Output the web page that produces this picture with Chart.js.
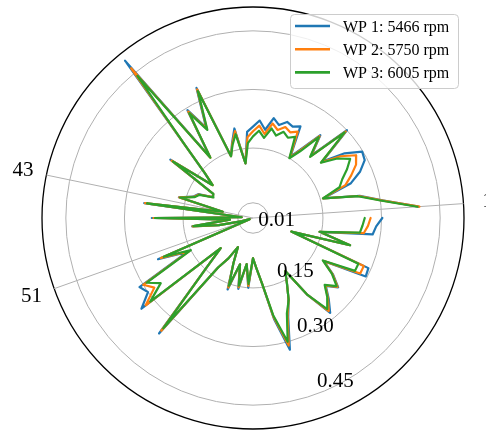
<!DOCTYPE html>
<html>
<head>
<meta charset="utf-8">
<script src="https://cdn.jsdelivr.net/npm/chart.js@4.4.1/dist/chart.umd.min.js"></script>
<style>
  html, body { margin: 0; padding: 0; background: #fff; }
</style>
</head>
<body>
<canvas id="polarChart" width="486" height="432"></canvas>
<script>
// blade numbers, counter-clockwise from 3 o'clock
const blades = [1, 2, 3, 4, 5, 6, 7, 8, 9, 10, 11, 12, 13, 14, 15, 16, 17, 18, 19, 20,
  21, 22, 23, 24, 25, 26, 27, 28, 29, 30, 31, 32, 33, 34, 35, 36, 37, 38, 39, 40,
  41, 42, 43, 44, 45, 46, 47, 48, 49, 50, 51, 52, 53, 54, 55, 56, 57, 58, 59, 60,
  61, 62, 63, 64, 65, 66, 67, 68, 69, 70, 71, 72, 73, 74, 75, 76, 77, 78, 79, 80,
  81, 82, 83, 84, 85, 86, 87, 88, 89, 90, 91, 92];

const wp1 = [0.396, 0.305, 0.250, 0.158, 0.237, 0.270, 0.293, 0.298, 0.258, 0.200,
  0.300, 0.190, 0.244, 0.190, 0.155, 0.235, 0.226, 0.232, 0.218, 0.232,
  0.199, 0.221, 0.205, 0.192, 0.112, 0.205, 0.170, 0.139, 0.334, 0.232,
  0.294, 0.162, 0.490, 0.227, 0.142, 0.105, 0.230, 0.090, 0.088, 0.124,
  0.134, 0.168, 0.050, 0.252, 0.000, 0.230, 0.030, 0.128, 0.060, 0.000,
  -0.020, 0.236, 0.160, 0.311, 0.300, 0.339, 0.084, 0.146, 0.352, 0.126,
  0.092, 0.055, 0.096, 0.165, 0.094, 0.156, 0.090, 0.150, 0.074, 0.100,
  0.140, 0.235, 0.321, 0.240, 0.200, 0.160, 0.130, 0.210, 0.284, 0.255,
  0.226, 0.252, 0.222, 0.184, 0.296, 0.293, 0.075, 0.229, 0.145, 0.280,
  0.287, 0.302];

const wp2 = [0.398, 0.303, 0.248, 0.157, 0.222, 0.245, 0.268, 0.280, 0.245, 0.197,
  0.296, 0.188, 0.241, 0.185, 0.152, 0.220, 0.210, 0.218, 0.205, 0.218,
  0.188, 0.208, 0.193, 0.178, 0.112, 0.198, 0.168, 0.139, 0.330, 0.228,
  0.290, 0.160, 0.465, 0.226, 0.140, 0.104, 0.226, 0.090, 0.087, 0.122,
  0.132, 0.167, 0.050, 0.250, 0.000, 0.226, 0.030, 0.127, 0.060, 0.000,
  -0.020, 0.228, 0.155, 0.300, 0.280, 0.325, 0.084, 0.146, 0.343, 0.126,
  0.092, 0.055, 0.096, 0.160, 0.094, 0.152, 0.090, 0.145, 0.074, 0.100,
  0.140, 0.230, 0.310, 0.235, 0.200, 0.160, 0.130, 0.210, 0.278, 0.252,
  0.224, 0.250, 0.220, 0.182, 0.280, 0.280, 0.075, 0.229, 0.145, 0.257,
  0.266, 0.272];

const wp3 = [0.393, 0.300, 0.245, 0.157, 0.206, 0.220, 0.242, 0.262, 0.235, 0.195,
  0.292, 0.185, 0.238, 0.180, 0.150, 0.205, 0.195, 0.205, 0.190, 0.205,
  0.178, 0.195, 0.180, 0.163, 0.112, 0.190, 0.165, 0.139, 0.325, 0.225,
  0.285, 0.160, 0.440, 0.225, 0.140, 0.104, 0.222, 0.090, 0.085, 0.120,
  0.130, 0.165, 0.050, 0.245, 0.000, 0.222, 0.030, 0.125, 0.060, 0.000,
  -0.020, 0.220, 0.150, 0.290, 0.260, 0.310, 0.084, 0.146, 0.335, 0.126,
  0.092, 0.055, 0.096, 0.155, 0.094, 0.148, 0.090, 0.140, 0.074, 0.100,
  0.140, 0.225, 0.300, 0.230, 0.200, 0.160, 0.130, 0.210, 0.272, 0.250,
  0.222, 0.247, 0.218, 0.180, 0.265, 0.265, 0.075, 0.229, 0.145, 0.247,
  0.252, 0.257];

const seriesNames = ["WP 1: 5466 rpm", "WP 2: 5750 rpm", "WP 3: 6005 rpm"];
const seriesColors = ["#1f77b4", "#ff7f0e", "#2ca02c"];
const radialTicks = [0.01, 0.15, 0.30, 0.45];
const angleTicks = [1, 43, 51];
const rMin = -0.029;
const rMax = 0.511;

const serif = '"Liberation Serif", "DejaVu Serif", serif';

// radar goes clockwise, so feed it the blades backwards (92, 91, ... 1)
const rev = arr => arr.slice().reverse();

// matplotlib draws an open line: drop the closing segment 1 -> 92
const openLine = {
    id: "openLine",
    afterDatasetsUpdate(chart) {
        chart.getSortedVisibleDatasetMetas().forEach(meta => {
            const line = meta.dataset;
            line._loop = false;
            line._fullLoop = false;
            line._segments = undefined;
            line._path = undefined;
        });
    }
};

const decorations = {
    id: "decorations",
    afterDraw(chart) {
        const ctx = chart.ctx;
        const s = chart.scales.r;
        ctx.save();

        // radial tick labels along the 290 deg direction
        ctx.font = "21px " + serif;
        ctx.fillStyle = "#000";
        ctx.textAlign = "left";
        ctx.textBaseline = "middle";
        const a = 70 * Math.PI / 180;
        radialTicks.forEach(v => {
            const d = s.getDistanceFromCenterForValue(v);
            ctx.fillText(v.toFixed(2), s.xCenter + d * Math.cos(a), s.yCenter + d * Math.sin(a) - 12);
        });

        // angular tick labels
        ctx.textAlign = "center";
        const labels = s.getLabels();
        angleTicks.forEach(b => {
            const i = labels.indexOf(String(b));
            const p = s.getPointPosition(i, s.drawingArea + 24);
            ctx.fillText(String(b), p.x, p.y);
        });

        // legend, upper right
        const bx = 290, by = 14, bw = 168, bh = 74;
        ctx.beginPath();
        ctx.roundRect(bx + 0.5, by + 0.5, bw, bh, 4);
        ctx.fillStyle = "rgba(255,255,255,0.8)";
        ctx.fill();
        ctx.strokeStyle = "#cccccc";
        ctx.lineWidth = 1;
        ctx.stroke();
        ctx.font = "16px " + serif;
        ctx.textAlign = "left";
        ctx.textBaseline = "alphabetic";
        seriesNames.forEach((name, i) => {
            const y = 26 + i * 23.2;
            ctx.beginPath();
            ctx.moveTo(295, y);
            ctx.lineTo(330, y);
            ctx.strokeStyle = seriesColors[i];
            ctx.lineWidth = 2.6;
            ctx.stroke();
            ctx.fillStyle = "#000";
            ctx.fillText(name, 343, y + 5.6);
        });
        ctx.restore();
    }
};

document.addEventListener("DOMContentLoaded", function () {
    const ctx = document.getElementById("polarChart").getContext("2d");
    const values = [wp1, wp2, wp3];

    new Chart(ctx, {
        type: "radar",
        data: {
            labels: rev(blades).map(String),
            datasets: values.map((vals, i) => ({
                label: seriesNames[i],
                data: rev(vals),
                borderColor: seriesColors[i],
                backgroundColor: seriesColors[i],
                borderWidth: 2.2,
                borderJoinStyle: "round",
                borderCapStyle: "round",
                pointRadius: 0,
                pointHoverRadius: 0,
                fill: false,
                tension: 0,
                order: 3 - i
            }))
        },
        options: {
            responsive: false,
            animation: false,
            devicePixelRatio: 1,
            layout: { padding: { left: 42, right: 22, top: 7, bottom: 3 } },
            plugins: {
                legend: { display: false },
                tooltip: { enabled: false }
            },
            scales: {
                r: {
                    min: rMin,
                    max: rMax,
                    startAngle: 90,
                    afterBuildTicks: scale => {
                        scale.ticks = [rMin, ...radialTicks, rMax].map(v => ({ value: v }));
                    },
                    ticks: { display: false },
                    grid: {
                        circular: true,
                        color: c => c.index === 0 ? "rgba(0,0,0,0)" : (c.tick && c.tick.value === rMax ? "#000" : "#b0b0b0"),
                        lineWidth: c => c.tick && c.tick.value === rMax ? 1.3 : 1
                    },
                    angleLines: {
                        display: true,
                        color: "#b0b0b0",
                        lineWidth: c => angleTicks.includes(Number(c.label)) ? 1 : 0
                    },
                    pointLabels: { display: false }
                }
            }
        },
        plugins: [openLine, decorations]
    });
});
</script>
</body>
</html>
